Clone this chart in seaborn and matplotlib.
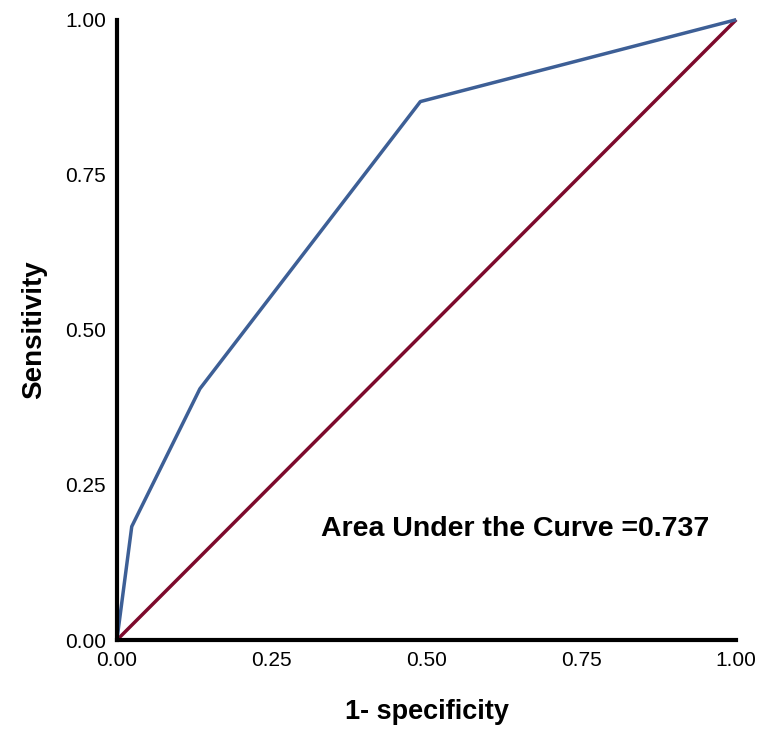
import seaborn as sns
import matplotlib.pyplot as plt
import pandas as pd

# ROC curve points
fpr = [0.0, 0.024, 0.134, 0.49, 1.0]
tpr = [0.0, 0.183, 0.405, 0.868, 1.0]
ref = [0.0, 1.0]
ticks = [0.0, 0.25, 0.5, 0.75, 1.0]
tick_labels = ['0.00', '0.25', '0.50', '0.75', '1.00']
auc_text = 'Area Under the Curve =0.737'

roc = pd.DataFrame({'fpr': fpr, 'tpr': tpr})
diag = pd.DataFrame({'x': ref, 'y': ref})

sns.set_style('white')
plt.rcParams['font.family'] = ['Liberation Sans', 'DejaVu Sans']
plt.rcParams['text.color'] = 'black'
plt.rcParams['axes.labelcolor'] = 'black'
plt.rcParams['xtick.color'] = 'black'
plt.rcParams['ytick.color'] = 'black'

fig = plt.figure(figsize=(7.59, 7.29), dpi=100)
ax = fig.add_axes([0.154, 0.122, 0.816, 0.851])

sns.lineplot(data=diag, x='x', y='y', color='#7d0a2c', linewidth=2.5, ax=ax)
sns.lineplot(data=roc, x='fpr', y='tpr', color='#3d5f96', linewidth=2.5,
             sort=False, ax=ax)
for line in ax.lines:
    line.set_clip_on(False)
    line.set_solid_capstyle('butt')

ax.set_xlim(0, 1)
ax.set_ylim(0, 1)
ax.set_xticks(ticks)
ax.set_xticklabels(tick_labels)
ax.set_yticks(ticks)
ax.set_yticklabels(tick_labels)
ax.tick_params(length=0, labelsize=15, pad=8)

sns.despine(ax=ax)
for s in ['left', 'bottom']:
    ax.spines[s].set_linewidth(3)
    ax.spines[s].set_color('black')

ax.set_xlabel('1- specificity', fontsize=19.5, fontweight='bold', labelpad=21)
ax.set_ylabel('Sensitivity', fontsize=20, fontweight='bold', labelpad=13)

ax.text(0.956, 0.179, auc_text, transform=ax.transAxes, ha='right',
        va='center', fontsize=20.5, fontweight='bold')

fig.savefig('out.png', dpi=100, facecolor='white')
